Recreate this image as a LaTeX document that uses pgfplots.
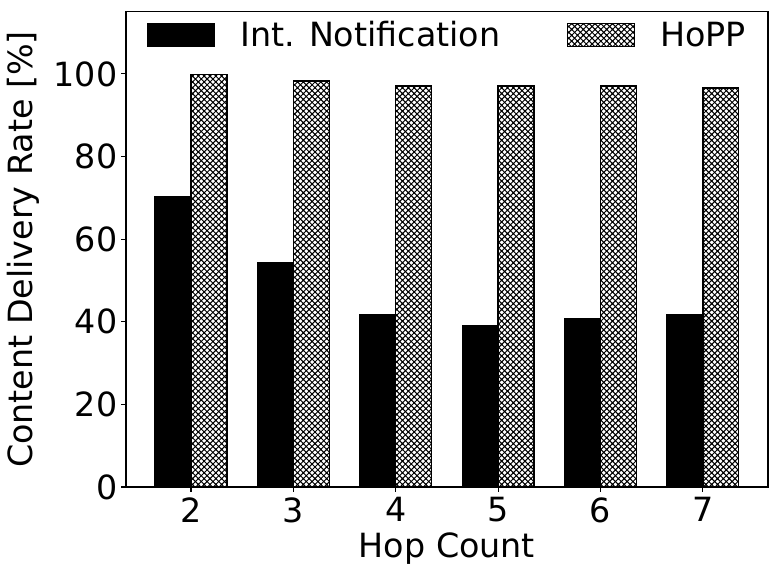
\documentclass[border=0pt]{standalone}
\usepackage{fontspec}
\setmainfont{DejaVu Sans}
\usepackage{pgfplots}
\pgfplotsset{compat=1.18}
\usetikzlibrary{patterns}
\pgfdeclarepatternformonly{mycross}{\pgfqpoint{-1pt}{-1pt}}{\pgfqpoint{5.2pt}{5.2pt}}{\pgfqpoint{4.2pt}{4.2pt}}{%
  \pgfsetlinewidth{0.7pt}%
  \pgfpathmoveto{\pgfqpoint{-0.5pt}{-0.5pt}}\pgfpathlineto{\pgfqpoint{4.7pt}{4.7pt}}%
  \pgfpathmoveto{\pgfqpoint{-0.5pt}{4.7pt}}\pgfpathlineto{\pgfqpoint{4.7pt}{-0.5pt}}%
  \pgfusepath{stroke}}
\begin{document}
\begin{tikzpicture}[font=\fontsize{24}{28.8}\selectfont]
\begin{axis}[
  at={(0,0)}, anchor=south west,
  scale only axis, width=462.2pt, height=342pt,
  xmin=1.365, xmax=7.635, ymin=0, ymax=115,
  xtick={2,3,4,5,6,7}, ytick={0,20,40,60,80,100},
  xtick pos=left, ytick pos=left,
  tick align=outside, major tick length=3.5pt,
  tick style={black, line width=0.8pt},
  axis line style={black, line width=0.8pt},
  /pgf/number format/assume math mode=true,
  yticklabel style={inner sep=0pt, xshift=-2.5pt},
  xticklabel style={inner sep=0pt, yshift=-4pt},
  xlabel={Hop Count},
  ylabel={Content Delivery Rate [\%]},
  every axis x label/.style={at={(axis description cs:0.5,-0.13)}, anchor=center},
  every axis y label/.style={at={(axis description cs:-0.16,0.5)}, rotate=90, anchor=center},
  ybar, bar width=0.35,
  legend columns=2,
  legend cell align=left,
  legend image code/.code={\draw[#1] (0pt,-8.4pt) rectangle (48pt,8.4pt);},
  legend style={draw=none, fill=none, inner sep=0pt, nodes={inner sep=0pt},
    at={(axis description cs:0.0327,0.9515)}, anchor=west,
    /tikz/every odd column/.append style={column sep=18pt},
    /tikz/every even column/.append style={column sep=48pt}},
]
\addplot[fill=black, draw=black, line width=1pt, bar shift=-0.175]
  coordinates {(2,70.2) (3,54.2) (4,41.6) (5,39.0) (6,40.7) (7,41.6)};
\addlegendentry{Int. Notification}
\addplot[pattern=mycross, pattern color=black, draw=black, line width=1pt, bar shift=0.175]
  coordinates {(2,99.8) (3,98.3) (4,97.1) (5,97.1) (6,97.1) (7,96.6)};
\addlegendentry{HoPP}
\end{axis}
\path (-90.7pt,-61.2pt) rectangle (471.6pt,350.6pt);
\end{tikzpicture}
\end{document}
